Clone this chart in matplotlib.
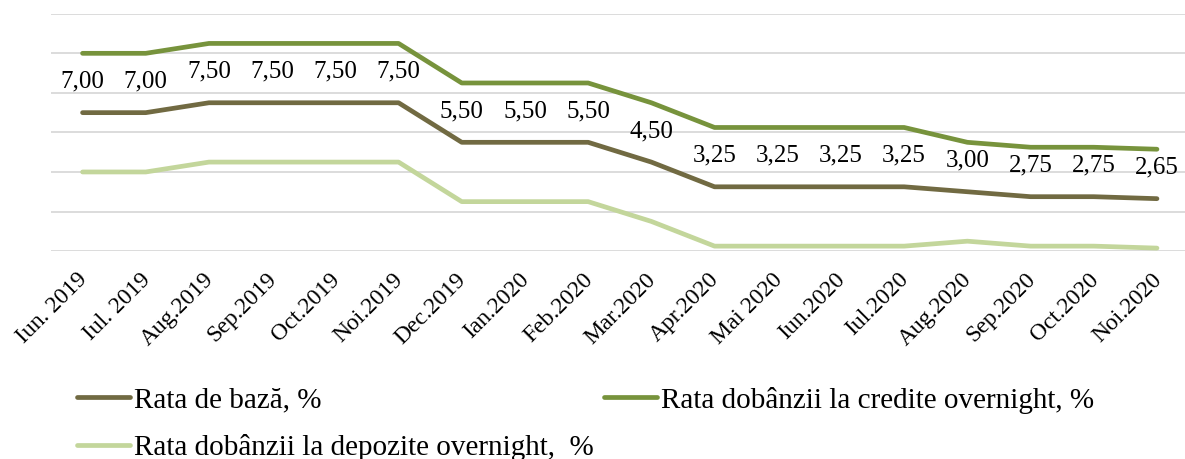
import matplotlib.pyplot as plt
import matplotlib.transforms as mtransforms
import numpy as np

months = ["Iun. 2019", "Iul. 2019", "Aug.2019", "Sep.2019", "Oct.2019", "Noi.2019",
          "Dec.2019", "Ian.2020", "Feb.2020", "Mar.2020", "Apr.2020", "Mai 2020",
          "Iun.2020", "Iul.2020", "Aug.2020", "Sep.2020", "Oct.2020", "Noi.2020"]
rata_baza = [7.00, 7.00, 7.50, 7.50, 7.50, 7.50, 5.50, 5.50, 5.50, 4.50,
             3.25, 3.25, 3.25, 3.25, 3.00, 2.75, 2.75, 2.65]
credite = [10.00, 10.00, 10.50, 10.50, 10.50, 10.50, 8.50, 8.50, 8.50, 7.50,
           6.25, 6.25, 6.25, 6.25, 5.50, 5.25, 5.25, 5.15]
depozite = [4.00, 4.00, 4.50, 4.50, 4.50, 4.50, 2.50, 2.50, 2.50, 1.50,
            0.25, 0.25, 0.25, 0.25, 0.50, 0.25, 0.25, 0.15]

c_baza = "#716A42"
c_cred = "#77933C"
c_dep = "#C3D69B"

plt.rcParams['font.family'] = ['Liberation Serif', 'DejaVu Serif']

fig = plt.figure(figsize=(11.85, 4.59), dpi=100)
ax = fig.add_axes([0.043, 0.453, 0.96, 0.517])

x = np.arange(len(months))
l1, = ax.plot(x, rata_baza, color=c_baza, lw=3.4, solid_capstyle='round', label="Rata de bază, %")
l2, = ax.plot(x, credite, color=c_cred, lw=3.4, solid_capstyle='round', label="Rata dobânzii la credite overnight, %")
l3, = ax.plot(x, depozite, color=c_dep, lw=3.4, solid_capstyle='round', label="Rata dobânzii la depozite overnight,  %")

# etichete pentru rata de baza
for xi, v in zip(x, rata_baza):
    ax.annotate(f"{v:.2f}".replace(".", ","), (xi, v), xytext=(0, 18), textcoords='offset points',
                ha='center', va='baseline', fontsize=18, color='black')

ax.set_xlim(-0.5, len(months) - 0.5)
ax.set_ylim(0, 12)
ax.set_yticks(np.arange(0, 13, 2))
ax.yaxis.grid(True, color='#D9D9D9', lw=1.3)
ax.set_axisbelow(True)
ax.tick_params(axis='y', left=False, labelleft=False)
ax.tick_params(axis='x', length=0, pad=13)
ax.set_xticks(x)
ax.set_xticklabels(months, rotation=45, ha='right', rotation_mode='anchor', fontsize=17)
shift = mtransforms.ScaledTranslation(-6 / 100, 0, fig.dpi_scale_trans)
for lab in ax.get_xticklabels():
    lab.set_transform(lab.get_transform() + shift)
for s in ax.spines.values():
    s.set_visible(False)

fig.legend([l1, l3, l2], [l1.get_label(), l3.get_label(), l2.get_label()],
           ncol=2, loc='upper left', bbox_to_anchor=(0.0555, 0.183), frameon=False,
           fontsize=21, handlelength=1.8, handletextpad=0.15, columnspacing=0.35,
           labelspacing=0.7, borderaxespad=0)

fig.savefig("out.png", dpi=100)
